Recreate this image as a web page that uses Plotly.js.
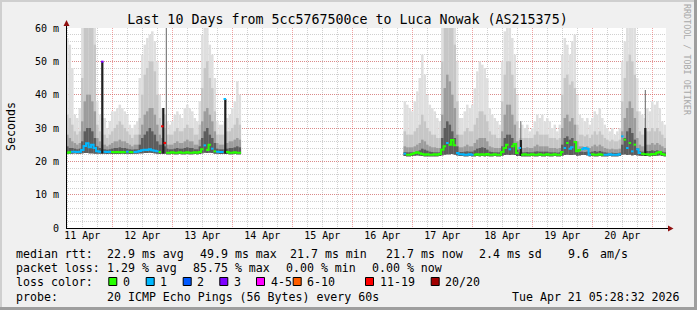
<!DOCTYPE html>
<html><head><meta charset="utf-8">
<script src="https://cdn.plot.ly/plotly-3.0.1.min.js"></script>
<style>html,body{margin:0;padding:0;background:#f0f0f0;}#chart{width:697px;height:310px;}</style>
</head><body><div id="chart"></div>
<script>
// ---------- DATA (hourly samples, hour offset from 11 Apr 2026 00:00) ----------
const seg1Start = 6;
const seg2Start = 141;

const seg1Min = [22.2,22.3,22.3,22.4,22.3,22.3,22.4,22.5,22.5,22.4, 22.4,22.3,22.3,22.3,22.4,22.3,22.2,22.3,22.2,22.2,
  22.2,22.2,22.3,22.2,22.3,22.2,22.2,22.3,22.3,22.4, 22.4,22.5,22.5,22.6,22.5,22.4,22.3,22.2,22.3,22.3,
  22.1,22.1,22.2,22.1,22.1,22.2,22.1,22.1,22.2,22.1, 22.1,22.2,22.1,22.2,22.4,22.6,22.5,22.6,22.5,22.3,
  22.3,22.2,22.2,22.3,22.2,22.1,22.1,22.2,22.1,22.1];
const seg1Max = [57,55,48,34,33,36,62,62,62,62, 62,61,38,34,33,33,30,32,35,35,
  36,37,36,35,34,31,30,31,32,45, 52,55,57,58,59,56,50,40,36,34,
  32,31,32,34,35,34,33,36,37,36, 35,33,32,38,58,61,60,55,52,45,
  32,31,31,32,33,34,36,38,44,40];
const seg1Mid = [34,33,31,29,28,29,45,62,62,62, 62,55,31,29,28,28,27,28,29,30,
  31,32,31,30,29,28,27,28,28,33, 40,46,48,50,50,47,40,33,31,30,
  28,28,28,29,30,29,29,30,31,30, 30,28,28,31,42,48,50,45,42,35,
  28,28,28,28,29,29,30,31,33,31];
const seg1Dark = [28,27,26,25.5,25,25.5,32,38,40,40, 38,35,27,26,25,25,24.5,25,25.5,26,
  26,26.5,26,26,25.5,25,24.5,25,25,28, 31,34,35,36,36,34,31,28,27,26,
  25,25,25,25.5,26,25.5,25.5,26,26.5,26, 26,25,25,26.5,32,35,36,34,32,29,
  25.5,25,25,25,25.5,26,26,26.5,27,26.5];
const seg1Core = [24.5,24,24,23.8,23.6,23.8,26,29,30,30, 29,27,24.5,24,23.6,23.6,23.5,23.6,23.8,24,
  24,24.2,24,24,23.8,23.6,23.5,23.6,23.6,25, 27,28,29,30,29,28,26,25,25,24.5,
  23.8,23.6,23.6,23.8,24,23.8,23.8,24,24.2,24, 24,23.6,23.6,24.5,27,29,30,28,27,25.5,
  23.8,23.6,23.6,23.6,23.8,24,24,24.2,24.5,24.2];
const seg1Median = [22.6,22.7,22.9,22.9,22.8,22.9,23.4,24.6,25.4,24.2, 25.0,24.0,23.0,22.9,49.9,22.9,22.8,22.9,22.8,22.7,
  22.8,22.7,22.8,22.7,22.9,22.8,22.7,22.8,22.9,23.1, 23.3,23.5,23.4,23.6,23.3,23.2,23.0,22.8,30.5,25.5,
  22.6,22.6,22.7,22.6,22.6,22.7,22.6,22.6,22.7,22.6, 22.6,22.7,22.6,22.8,23.6,24.8,23.4,25.0,23.8,23.0,
  22.9,22.8,22.8,38.7,22.8,22.6,22.6,22.7,22.6,22.6];
const seg1Loss = [0,0,1,1,1,1,1,1,1,1, 1,1,1,1,3,1,1,1,0,0,
  0,0,0,0,1,0,0,1,1,1, 1,1,1,1,1,1,1,0,6,6,
  0,0,0,0,0,0,0,0,0,0, 0,0,0,0,0,1,0,0,1,0,
  1,1,1,1,0,0,0,0,0,0];

const seg2Min = [21.6,21.5,21.5,21.6,21.7,21.8,21.7,21.6,21.5,21.5, 21.5,21.5,21.5,21.5,21.6,21.8,22.0,22.1,22.1,22.2,
  22.0,21.8,21.6,21.6,21.5,21.5,21.6,21.5,21.5,21.6, 21.5,21.6,21.5,21.6,21.5,21.5,21.6,21.5,21.5,21.7,
  21.9,22.0,21.9,22.0,21.9,21.6,21.7,21.5,21.5,21.5, 21.5,21.6,21.5,21.5,21.6,21.5,21.5,21.6,21.5,21.5,
  21.6,21.5,21.5,21.7,21.9,22.0,21.9,21.9,22.0,21.7, 21.8,21.9,21.9,21.8,21.5,21.6,21.5,21.5,21.6,21.5,
  21.5,21.5,21.6,21.5,21.5,21.5,21.6,22.0,22.1,21.9, 22.0,21.8,21.9,21.8,21.7,21.6,21.6,21.6,21.5,21.6,
  21.6,21.7,21.8,21.6,21.5];
const seg2Max = [38,37,36,35,38,41,45,52,46,40, 37,36,35,33,32,62,62,62,62,62,
  62,50,33,33,35,37,36,37,42,47, 50,49,48,45,36,34,33,32,31,50,
  59,60,60,57,52,40,30,31,30,31, 29,30,32,34,33,34,32,33,32,30,
  31,29,31,52,57,55,52,56,58,40, 34,33,32,33,31,33,35,34,36,33,
  31,30,29,30,28,29,30,50,56,62, 62,62,62,45,35,34,33,36,35,38,
  37,38,36,32,31];
const seg2Mid = [29,28,28,28,29,30,31,34,32,30, 29,28,28,27,27,50,62,62,62,60,
  55,38,28,28,29,30,29,29,31,33, 35,35,34,32,29,28,28,27,27,38,
  46,50,50,46,42,32,27,27,27,27, 27,27,28,29,28,28,28,28,27,27,
  27,26.5,27,40,45,46,43,44,42,31, 28,28,27.5,28,27,28,29,28,29,28,
  27,26.5,26,26.5,26,26,26.5,38,45,50, 52,50,46,35,29,28,28,29,29,30,
  29,30,29,28,27];
const seg2Dark = [24.5,24.2,24.2,24.2,24.5,25,25.5,26.5,26,25, 24.5,24.2,24.2,24,24,34,42,46,44,40,
  36,28,24.2,24.2,24.5,25,24.5,24.5,25.5,26.5, 27,27,27,26,24.5,24.2,24,24,24,29,
  34,37,37,34,31,26,24,24,24,24.2, 24,24,24.5,25,24.5,24.5,24.5,24.5,24,24,
  24,23.8,24,30,33,34,32,33,31,26, 24.5,24.5,24.2,24.5,24,24.5,25,24.5,25,24.5,
  24,23.8,23.6,23.8,23.6,23.6,23.8,29,33,36, 38,36,33,27,25,24.5,24.5,25,25,25.5,
  25,25.5,25,24.5,24];
const seg2Core = [22.8,22.7,22.7,22.7,22.8,23,23.3,23.8,23.5,23.2, 22.9,22.8,22.7,22.7,22.7,27,30,32,31,29,
  27,24.5,22.8,22.8,22.9,23,22.9,22.9,23.3,23.8, 24,24.2,24,23.5,22.9,22.8,22.7,22.7,22.7,24.5,
  27,28,28,27,25.5,23.5,22.7,22.7,22.7,22.8, 22.7,22.7,22.9,23,22.9,22.9,22.9,22.9,22.7,22.7,
  22.7,22.6,22.7,25,27,27.5,26.5,27,26,23.5, 22.9,22.9,22.8,22.9,22.7,22.9,23.1,22.9,23.1,22.9,
  22.7,22.6,22.5,22.6,22.5,22.5,22.6,25,27,29, 30,28.5,26.5,24,23,22.9,22.9,23.1,23.1,23.3,
  23.1,23.3,23.1,22.9,22.7];
const seg2Median = [22.3,22.0,22.0,22.2,22.5,22.7,22.4,22.2,22.0,22.1, 22.0,22.0,22.1,22.0,22.2,23.5,24.5,25.5,25.0,26.4,
  24.8,22.5,22.1,22.1,22.0,22.0,22.1,22.0,22.0,22.1, 22.0,22.1,22.0,22.2,22.0,22.0,22.1,22.0,22.0,22.8,
  24.0,25.0,23.6,24.5,25.2,22.5,24.0,22.0,22.1,22.0, 22.0,22.1,22.0,22.0,22.1,22.0,22.0,22.1,22.0,22.0,
  22.1,22.0,22.0,22.8,24.0,25.5,23.8,24.2,25.8,23.0, 23.4,23.6,24.0,23.8,22.0,22.1,22.0,22.0,22.1,22.0,
  22.0,22.0,22.1,22.0,22.0,22.0,22.1,27.5,26.5,24.0, 25.5,23.0,25.0,23.6,22.5,22.3,22.1,22.1,22.0,22.2,
  22.1,22.6,22.8,22.2,22.0];
const seg2Loss = [1,0,0,0,0,0,0,0,0,0, 0,0,0,0,0,0,0,1,0,0,
  0,1,1,1,1,1,1,1,0,0, 0,0,0,0,0,0,0,0,0,0,
  0,0,1,0,0,0,1,0,0,0, 0,0,0,0,0,0,0,0,0,0,
  0,0,0,0,1,0,1,1,0,0, 0,1,1,1,1,0,0,0,0,0,
  1,1,1,1,1,1,1,1,0,1, 0,1,0,1,1,0,0,0,0,0,
  0,0,0,0,0];

// isolated high samples (hour, top of dark part, top of grey trace, bottom)
const spikeHours    = [20.0, 44.4, 45.6, 69.2, 187.4, 237.2];
const spikeBlackTop = [49.9, 36.0, null, 38.7, 26.4, 30.0];
const spikeGreyTop  = [null, null, 60.5, null, 32.0, 41.4];
const spikeBase     = [22.3, 22.3, 22.3, 22.3, 21.6, 21.6];

const yTickVals = [0, 10, 20, 30, 40, 50, 60];
const yTickText = ['0', '10 m', '20 m', '30 m', '40 m', '50 m', '60 m'];

const titleText = 'Last 10 Days from 5cc5767500ce to Luca Nowak (AS215375)';
const statLabels = ['median rtt:', 'packet loss:', 'loss color:', 'probe:'];
const rttStats = ['22.9 ms avg', '49.9 ms max', '21.7 ms min', '21.7 ms now', '2.4 ms sd', '9.6', 'am/s'];
const lossStats = ['1.29 % avg', '85.75 % max', '0.00 % min', '0.00 % now'];
const lossLabels = ['0', '1', '2', '3', '4-5', '6-10', '11-19', '20/20'];
const probeText = '20 ICMP Echo Pings (56 Bytes) every 60s';
const dateText = 'Tue Apr 21 05:28:32 2026';

// ---------- STYLE ----------
const mono = 'DejaVu Sans Mono, monospace';
const lossColors = ['#26ff00', '#00b8ff', '#0059ff', '#7e00ff', '#ff00ff', '#ff5e00', '#ff0000', '#a10000'];
const smokeColors = ['#dedede', '#c6c6c6', '#9c9c9c', '#5c5c5c'];
const PL = 66, PT = 28, PW = 600, PH = 200;
const px = v => (v - PL) / PW;
const py = v => (PT + PH - v) / PH;

const T0 = Date.UTC(2026, 3, 11);
function t(h) { return new Date(T0 + h * 3600000).toISOString().slice(0, 19).replace('T', ' '); }

function smokeTrace(a1, a2, color) {
  const xs = [], ys = [], bs = [];
  a1.forEach((v, i) => { xs.push(t(seg1Start + i)); bs.push(seg1Min[i]); ys.push(v - seg1Min[i]); });
  a2.forEach((v, i) => { xs.push(t(seg2Start + i)); bs.push(seg2Min[i]); ys.push(v - seg2Min[i]); });
  return { type: 'bar', x: xs, y: ys, base: bs, width: 3600000, marker: { color: color, line: { width: 0 } },
    hoverinfo: 'skip', showlegend: false };
}

const traces = [
  smokeTrace(seg1Max, seg2Max, smokeColors[0]),
  smokeTrace(seg1Mid, seg2Mid, smokeColors[1]),
  smokeTrace(seg1Dark, seg2Dark, smokeColors[2]),
  smokeTrace(seg1Core, seg2Core, smokeColors[3])
];

function spikeTrace(tops, color, w) {
  const xs = [], ys = [], bs = [];
  spikeHours.forEach((h, i) => { if (tops[i] != null) { xs.push(t(h)); ys.push(tops[i] - spikeBase[i]); bs.push(spikeBase[i]); } });
  return { type: 'bar', x: xs, y: ys, base: bs, width: w, marker: { color: color, line: { width: 0 } }, hoverinfo: 'skip', showlegend: false };
}
traces.push(spikeTrace(spikeGreyTop, '#6a6a6a', 1500000));
traces.push(spikeTrace(spikeBlackTop, '#1e1e1e', 3200000));

// median line, coloured by loss; a new run starts on colour change or on a big jump
const med = lossColors.map(() => ({ x: [], y: [] }));
function addMedian(start, m, loss) {
  const brk = i => i < 0 || i >= m.length || loss[i] !== loss[i + 1] || Math.abs(m[i + 1] - m[i]) > 3;
  for (let i = 0; i < m.length; i++) {
    const c = loss[i], s = med[c];
    if (i === 0 || brk(i - 1)) { if (s.x.length) { s.x.push(null); s.y.push(null); } }
    s.x.push(t(start + i - 0.5)); s.y.push(m[i]);
    if (i === m.length - 1 || brk(i)) { s.x.push(t(start + i + 0.5)); s.y.push(m[i]); }
  }
}
addMedian(seg1Start, seg1Median, seg1Loss);
addMedian(seg2Start, seg2Median, seg2Loss);
med.forEach((s, c) => {
  if (s.x.length) traces.push({ type: 'scatter', mode: 'lines', x: s.x, y: s.y, connectgaps: false,
    line: { color: lossColors[c], width: 2, shape: 'hv' }, hoverinfo: 'skip', showlegend: false });
});

// ---------- DECORATION ----------
const majorGrid = 'rgba(228,70,70,0.5)';
const minorGrid = 'rgba(150,150,150,0.45)';
const shapes = [
  { type: 'rect', xref: 'paper', yref: 'paper', x0: px(0), x1: px(697), y0: py(0), y1: py(2), fillcolor: '#cfcfcf', line: { width: 0 }, layer: 'above' },
  { type: 'rect', xref: 'paper', yref: 'paper', x0: px(0), x1: px(2), y0: py(0), y1: py(310), fillcolor: '#cfcfcf', line: { width: 0 }, layer: 'above' },
  { type: 'rect', xref: 'paper', yref: 'paper', x0: px(694), x1: px(697), y0: py(0), y1: py(310), fillcolor: '#9e9e9e', line: { width: 0 }, layer: 'above' },
  { type: 'rect', xref: 'paper', yref: 'paper', x0: px(0), x1: px(697), y0: py(307), y1: py(310), fillcolor: '#9e9e9e', line: { width: 0 }, layer: 'above' },
  { type: 'line', xref: 'paper', yref: 'paper', x0: px(66.5), x1: px(66.5), y0: py(228.5), y1: py(25), line: { color: '#000', width: 1 }, layer: 'above' },
  { type: 'line', xref: 'paper', yref: 'paper', x0: px(66), x1: px(669), y0: py(228.5), y1: py(228.5), line: { color: '#000', width: 1 }, layer: 'above' },
  { type: 'path', xref: 'paper', yref: 'paper', path: `M${px(66.5)},${py(20)} L${px(63.5)},${py(26)} L${px(69.5)},${py(26)} Z`, fillcolor: '#901010', line: { width: 0 }, layer: 'above' },
  { type: 'path', xref: 'paper', yref: 'paper', path: `M${px(673.5)},${py(228.5)} L${px(668)},${py(225.5)} L${px(668)},${py(231.5)} Z`, fillcolor: '#901010', line: { width: 0 }, layer: 'above' }
];
const boxX = [108.3, 145.7, 182.7, 219.3, 256, 292.7, 365, 430.7];
boxX.forEach((bx, i) => shapes.push({ type: 'rect', xref: 'paper', yref: 'paper', x0: px(bx + 0.5), x1: px(bx + 8.5), y0: py(285.5), y1: py(277.5),
  fillcolor: lossColors[i], line: { color: '#000', width: 1 }, layer: 'above' }));

function txt(x, y, s, extra) {
  return Object.assign({ xref: 'paper', yref: 'paper', x: px(x), y: py(y), text: s, showarrow: false, xanchor: 'left', yanchor: 'middle',
    borderpad: 0, font: { family: mono, size: 11.6, color: '#000' } }, extra || {});
}
const lineY = [253.8, 268.2, 282.2, 296.5];
const annotations = [];
statLabels.forEach((s, i) => annotations.push(txt(15, lineY[i], s)));
const rttX = [106, 199, 289, 384.7, 478.3, 567.3, 599];
rttStats.forEach((s, i) => annotations.push(txt(rttX[i], lineY[0], s)));
const lossX = [106, 192, 285, 371.3];
lossStats.forEach((s, i) => annotations.push(txt(lossX[i], lineY[1], s)));
lossLabels.forEach((s, i) => annotations.push(txt(boxX[i] + 13.5, lineY[2], s)));
annotations.push(txt(106, lineY[3], probeText));
annotations.push(txt(681, lineY[3], dateText, { xanchor: 'right' }));
annotations.push(txt(11, 127, 'Seconds', { xanchor: 'center', textangle: -90 }));
annotations.push(txt(687, 60, 'RRDTOOL / TOBI OETIKER', { xanchor: 'center', textangle: 90, font: { family: mono, size: 8.4, color: '#a8a8a8' } }));

const layout = {
  width: 697, height: 310,
  margin: { l: PL, r: 697 - PL - PW, t: PT, b: 310 - PT - PH, pad: 0 },
  paper_bgcolor: '#f0f0f0', plot_bgcolor: '#ffffff',
  barmode: 'overlay', showlegend: false, hovermode: false,
  title: { text: titleText, font: { family: mono, size: 13.3, color: '#000' }, xref: 'container', yref: 'container',
    x: 347.5 / 697, xanchor: 'center', y: 1 - 19 / 310, yanchor: 'middle' },
  xaxis: {
    type: 'date', range: ['2026-04-11 05:28:32', '2026-04-21 05:28:32'],
    tick0: '2026-04-11', dtick: 86400000, tickformat: '%d %b', ticklabelmode: 'period',
    showgrid: true, gridcolor: majorGrid, griddash: '1px,1px', gridwidth: 1,
    minor: { tick0: '2026-04-11', dtick: 21600000, showgrid: true, gridcolor: minorGrid, griddash: '1px,1px', gridwidth: 1 },
    ticks: '', showline: false, zeroline: false, automargin: false, fixedrange: true,
    tickfont: { family: mono, size: 10, color: '#000' }
  },
  yaxis: {
    range: [0, 60], tickmode: 'array', tickvals: yTickVals, ticktext: yTickText,
    showgrid: true, gridcolor: majorGrid, griddash: '1px,1px', gridwidth: 1,
    minor: { tick0: 0, dtick: 2, showgrid: true, gridcolor: minorGrid, griddash: '1px,1px', gridwidth: 1 },
    ticks: '', ticklabelstandoff: 6, showline: false, zeroline: false, automargin: false, fixedrange: true,
    tickfont: { family: mono, size: 10, color: '#000' }
  },
  shapes: shapes, annotations: annotations
};
Plotly.newPlot('chart', traces, layout, { staticPlot: true, displayModeBar: false });
</script></body></html>
